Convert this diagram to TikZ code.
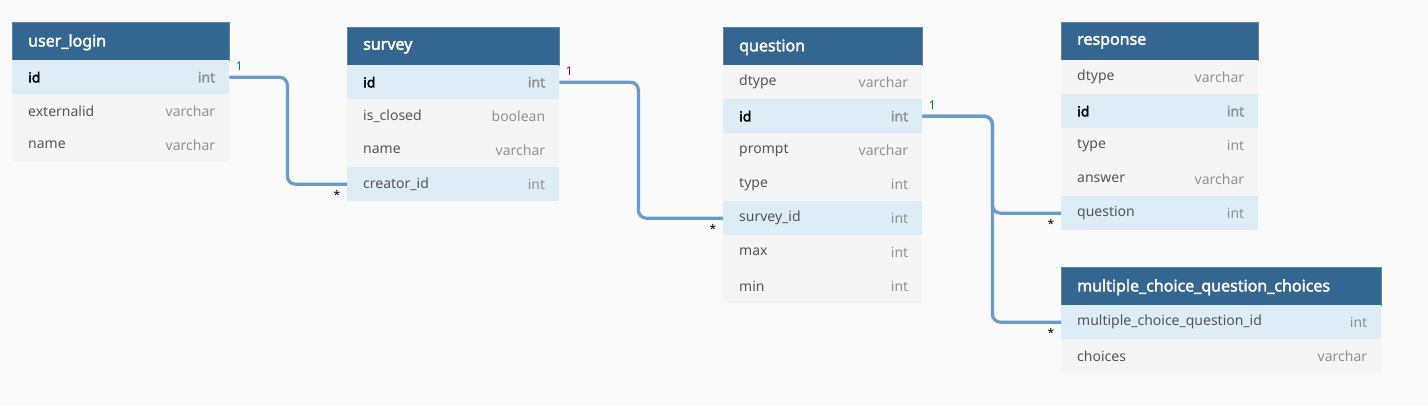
\documentclass[tikz,border=0pt]{standalone}
\usepackage{fontspec}
\setmainfont{Noto Sans}[BoldFont={Noto Sans}, BoldFeatures={FakeBold=2.2}]
\definecolor{bg}{RGB}{250,250,250}
\definecolor{hdrblue}{RGB}{51,103,145}
\definecolor{keyblue}{RGB}{222,236,245}
\definecolor{rowgray}{RGB}{245,245,245}
\definecolor{namegray}{RGB}{85,85,85}
\definecolor{typegray}{RGB}{145,145,145}
\definecolor{relblue}{RGB}{104,156,206}
\definecolor{oneblue}{RGB}{0,112,192}
\definecolor{onepurple}{RGB}{128,0,128}
\definecolor{onegreen}{RGB}{0,128,0}
\tikzset{
  hdr/.style={fill=hdrblue, draw=hdrblue!80!white, line width=.6pt, minimum height=38pt, inner sep=0pt, anchor=north west},
  hdr-name/.style={text=white, font=\bfseries\fontsize{16}{19}\selectfont, inner sep=0pt},
  pk/.style={fill=keyblue, minimum height=34pt, inner sep=0pt, anchor=north west},
  fk/.style={pk},
  fld/.style={pk, fill=rowgray},
  pk-name/.style={text=black, font=\bfseries\fontsize{14}{17}\selectfont, inner sep=0pt},
  fk-name/.style={text=namegray, inner sep=0pt},
  fld-name/.style={fk-name},
  pk-type/.style={text=typegray, font=\bfseries\fontsize{14}{17}\selectfont, inner sep=0pt},
  fk-type/.style={text=typegray, inner sep=0pt},
  fld-type/.style={fk-type},
  rel/.style={draw=relblue, line width=3.2pt, rounded corners=8pt},
  card/.style={font=\fontsize{12}{14}\selectfont, inner sep=0pt}
}
\begin{document}
\begin{tikzpicture}[x=1pt, y=-1pt, font=\fontsize{14}{17}\selectfont]
\fill[bg] (0,0) rectangle (1428,406);
\useasboundingbox (0,0) rectangle (1428,406);

% user_login
\node[hdr, minimum width=217pt] (ul) at (12,22) {};
\node[hdr-name, anchor=west] (ul-n) at ([xshift=16pt,yshift=-1pt]ul.west) {user\_login};
\foreach \f/\t/\s [count=\i] in {id/int/pk, externalid/varchar/fld, name/varchar/fld}{
  \node[\s, minimum width=217pt] (ul-\i) at (12,{60+34*(\i-1)}) {};
  \node[\s-name, anchor=west] (ul-\i-n) at ([xshift=16pt]ul-\i.west) {\f};
  \node[\s-type, anchor=east] (ul-\i-t) at ([xshift=-14pt]ul-\i.east) {\t};
}

% survey
\node[hdr, minimum width=212pt] (sv) at (347,27) {};
\node[hdr-name, anchor=west] (sv-n) at ([xshift=16pt,yshift=-1pt]sv.west) {survey};
\foreach \f/\t/\s [count=\i] in {id/int/pk, is\_closed/boolean/fld, name/varchar/fld, creator\_id/int/fk}{
  \node[\s, minimum width=212pt] (sv-\i) at (347,{65+34*(\i-1)}) {};
  \node[\s-name, anchor=west] (sv-\i-n) at ([xshift=16pt]sv-\i.west) {\f};
  \node[\s-type, anchor=east] (sv-\i-t) at ([xshift=-14pt]sv-\i.east) {\t};
}

% question
\node[hdr, minimum width=199pt] (qu) at (723,27) {};
\node[hdr-name, anchor=west] (qu-n) at ([xshift=16pt,yshift=-1pt]qu.west) {question};
\foreach \f/\t/\s [count=\i] in {dtype/varchar/fld, id/int/pk, prompt/varchar/fld, type/int/fld, survey\_id/int/fk, max/int/fld, min/int/fld}{
  \node[\s, minimum width=199pt] (qu-\i) at (723,{65+34*(\i-1)}) {};
  \node[\s-name, anchor=west] (qu-\i-n) at ([xshift=16pt]qu-\i.west) {\f};
  \node[\s-type, anchor=east] (qu-\i-t) at ([xshift=-14pt]qu-\i.east) {\t};
}

% response
\node[hdr, minimum width=197pt] (re) at (1061,22) {};
\node[hdr-name, anchor=west] (re-n) at ([xshift=16pt,yshift=-1pt]re.west) {response};
\foreach \f/\t/\s [count=\i] in {dtype/varchar/fld, id/int/pk, type/int/fld, answer/varchar/fld, question/int/fk}{
  \node[\s, minimum width=197pt] (re-\i) at (1061,{60+34*(\i-1)}) {};
  \node[\s-name, anchor=west] (re-\i-n) at ([xshift=16pt]re-\i.west) {\f};
  \node[\s-type, anchor=east] (re-\i-t) at ([xshift=-14pt]re-\i.east) {\t};
}

% multiple_choice_question_choices
\node[hdr, minimum width=320pt] (mc) at (1061,267) {};
\node[hdr-name, anchor=west] (mc-n) at ([xshift=16pt,yshift=-1pt]mc.west) {multiple\_choice\_question\_choices};
\foreach \f/\t/\s [count=\i] in {multiple\_choice\_question\_id/int/fk, choices/varchar/fld}{
  \node[\s, minimum width=320pt] (mc-\i) at (1061,{305+34*(\i-1)}) {};
  \node[\s-name, anchor=west] (mc-\i-n) at ([xshift=16pt]mc-\i.west) {\f};
  \node[\s-type, anchor=east] (mc-\i-t) at ([xshift=-14pt]mc-\i.east) {\t};
}

% relations
\draw[rel] (ul-1.east) -- ++(58,0) |- (sv-4.west);
\draw[rel] (sv-1.east) -- ++(79,0) |- (qu-5.west);
\draw[rel] (qu-2.east) -- ++(70,0) |- (re-5.west);
\draw[rel] (qu-2.east) -- ++(70,0) |- (mc-1.west);

\node[card, text=oneblue] (c1) at ([shift={(10pt,11pt)}]ul-1.east) {1};
\node[card] (c2) at ([shift={(-10pt,-11pt)}]sv-4.west) {*};
\node[card, text=onepurple] (c3) at ([shift={(10pt,11pt)}]sv-1.east) {1};
\node[card] (c4) at ([shift={(-10pt,-11pt)}]qu-5.west) {*};
\node[card, text=onegreen] (c5) at ([shift={(10pt,11pt)}]qu-2.east) {1};
\node[card] (c6) at ([shift={(-10pt,-11pt)}]re-5.west) {*};
\node[card] (c7) at ([shift={(-10pt,-11pt)}]mc-1.west) {*};
\end{tikzpicture}
\end{document}
